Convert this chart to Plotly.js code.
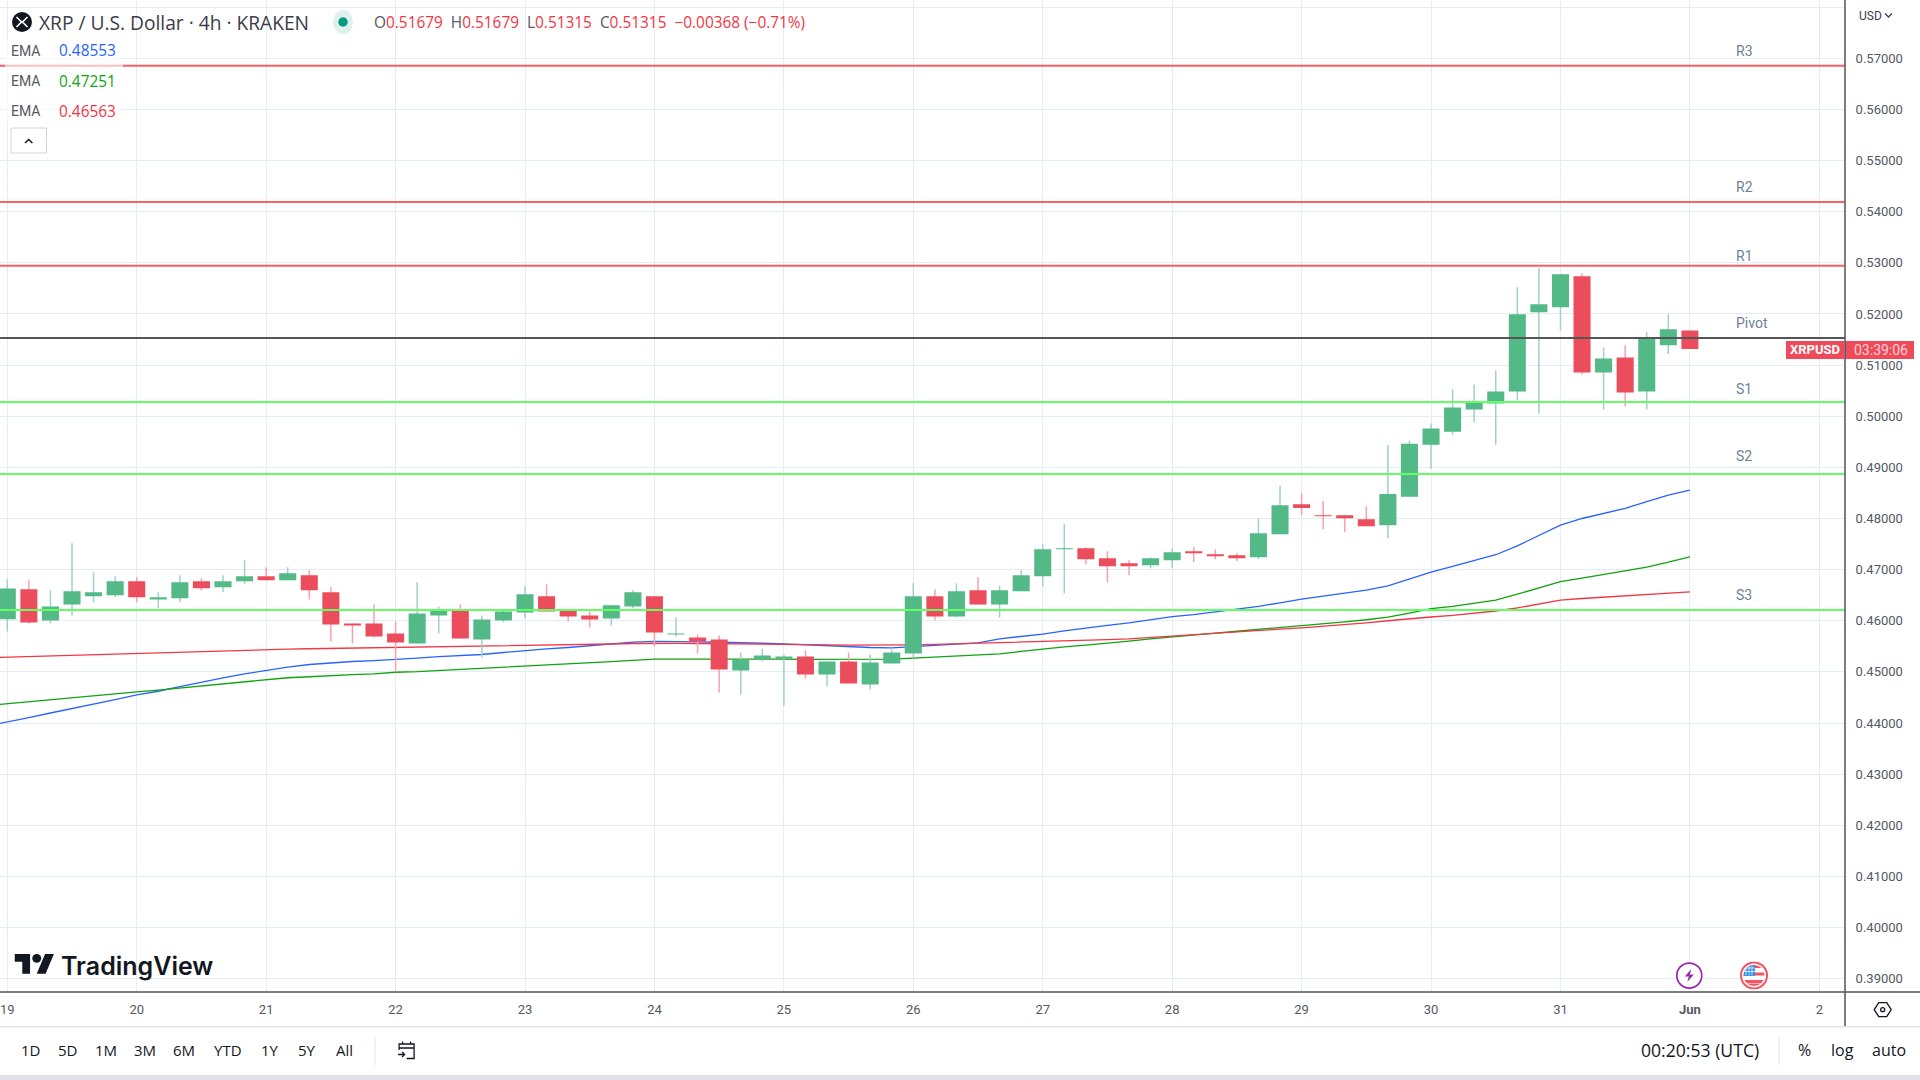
<!DOCTYPE html>
<html><head><meta charset="utf-8">
<script src="https://cdn.plot.ly/plotly-3.0.1.min.js"></script>
<style>html,body{margin:0;padding:0;background:#fff;overflow:hidden}#c{width:1920px;height:1080px}</style>
</head><body><div id="c"></div>
<script>
const times = [
"2023-05-19 00:00","2023-05-19 04:00","2023-05-19 08:00","2023-05-19 12:00","2023-05-19 16:00","2023-05-19 20:00",
"2023-05-20 00:00","2023-05-20 04:00","2023-05-20 08:00","2023-05-20 12:00","2023-05-20 16:00","2023-05-20 20:00",
"2023-05-21 00:00","2023-05-21 04:00","2023-05-21 08:00","2023-05-21 12:00","2023-05-21 16:00","2023-05-21 20:00",
"2023-05-22 00:00","2023-05-22 04:00","2023-05-22 08:00","2023-05-22 12:00","2023-05-22 16:00","2023-05-22 20:00",
"2023-05-23 00:00","2023-05-23 04:00","2023-05-23 08:00","2023-05-23 12:00","2023-05-23 16:00","2023-05-23 20:00",
"2023-05-24 00:00","2023-05-24 04:00","2023-05-24 08:00","2023-05-24 12:00","2023-05-24 16:00","2023-05-24 20:00",
"2023-05-25 00:00","2023-05-25 04:00","2023-05-25 08:00","2023-05-25 12:00","2023-05-25 16:00","2023-05-25 20:00",
"2023-05-26 00:00","2023-05-26 04:00","2023-05-26 08:00","2023-05-26 12:00","2023-05-26 16:00","2023-05-26 20:00",
"2023-05-27 00:00","2023-05-27 04:00","2023-05-27 08:00","2023-05-27 12:00","2023-05-27 16:00","2023-05-27 20:00",
"2023-05-28 00:00","2023-05-28 04:00","2023-05-28 08:00","2023-05-28 12:00","2023-05-28 16:00","2023-05-28 20:00",
"2023-05-29 00:00","2023-05-29 04:00","2023-05-29 08:00","2023-05-29 12:00","2023-05-29 16:00","2023-05-29 20:00",
"2023-05-30 00:00","2023-05-30 04:00","2023-05-30 08:00","2023-05-30 12:00","2023-05-30 16:00","2023-05-30 20:00",
"2023-05-31 00:00","2023-05-31 04:00","2023-05-31 08:00","2023-05-31 12:00","2023-05-31 16:00","2023-05-31 20:00",
"2023-06-01 00:00"];
const open = [
.4603,.46614,.46007,.4632,.46477,.46497,.46771,.46418,.46438,.46771,.46654,.46771,.46869,.46791,.46889,.46556,.45948,.45948,.45752,.45556,.46105,.46203,.45634,.46007,
.46163,.46477,.46203,.46105,.46046,.46281,.46477,.45732,.45673,.45634,.45026,.45242,.45255,.45301,.44948,.45203,.44752,.45163,.4536,.46477,.46085,.46595,.4632,
.46575,.46869,.47399,.47418,.47222,.47124,.47085,.47183,.4736,.47301,.47281,.47242,.47693,.48281,.48065,.48065,.47987,.47869,.48425,.49444,.49699,.50131,.50248,.50484,.52033,.52131,.52739,.50856,.5115,.50484,.51386,.51679];
const high = [
.4681,.4679,.46595,.47516,.46948,.46869,.4685,.46556,.46889,.4683,.46889,.47183,.47046,.47046,.46987,.46654,.45948,.4632,.45987,.46752,.46281,.4632,.46105,.46222,
.46673,.46712,.46222,.46183,.46301,.46595,.46477,.46065,.45732,.45712,.45379,.45458,.4534,.45418,.45203,.45379,.4534,.45438,.46732,.46614,.46732,.4685,.46693,
.46987,.47497,.47889,.47438,.4736,.47183,.47242,.47418,.47438,.47399,.4732,.48,.48634,.48497,.4834,.48065,.48242,.49438,.49523,.49856,.50523,.50621,.50895,.52523,.52895,.52778,.52797,.51346,.51386,.51641,.51993,.51679];
const low = [
.4579,.45948,.45948,.46105,.4636,.46458,.4636,.46242,.4636,.46595,.46556,.46712,.46791,.46791,.46418,.45595,.45556,.45673,.44993,.45556,.45752,.45654,.45281,.45967,
.46046,.46183,.45987,.45869,.45908,.46242,.45497,.45693,.4536,.44595,.44556,.45203,.4434,.44869,.44712,.44771,.44654,.45163,.45281,.46007,.46065,.4632,.46065,
.46575,.46673,.46536,.47105,.46752,.46889,.47026,.47026,.47144,.47203,.47163,.47203,.47693,.48065,.47791,.47732,.4785,.47614,.48425,.48974,.4964,.49876,.49444,.50307,.50052,.5168,.50817,.50131,.5019,.50131,.51216,.51315];
const close = [
.4663,.45967,.46281,.46575,.46556,.46771,.46458,.46458,.46752,.46634,.46771,.46869,.46791,.46928,.46595,.45928,.45908,.45693,.45575,.46144,.46203,.45654,.46026,.46183,
.46516,.46183,.46085,.46026,.46301,.46556,.45771,.45752,.45595,.45046,.45242,.4532,.45301,.44948,.45203,.44771,.45183,.45379,.46477,.46085,.46575,.4632,.46595,
.46889,.47399,.47418,.47203,.47065,.47065,.47222,.4734,.4732,.47261,.47222,.47712,.48261,.48203,.48046,.48007,.4785,.48477,.49464,.49758,.5017,.50275,.50484,.51993,.5219,.52778,.50856,.51131,.50464,.51523,.51699,.51315];
const emaTimes = ["2023-05-18 20:00"].concat(times);
const ema1 = [.4394,
.4402,.44105,.44196,.4428,.44373,.44458,.44549,.44621,.44712,.44804,.44882,.44961,.4503,.45095,.45144,.45176,.45203,.45222,.45240,.45268,.4530,.4532,.4534,.45379,
.45418,.45451,.45477,.4551,.45542,.45582,.45595,.45595,.45588,.4558,.45575,.4556,.45549,.4553,.4551,.4549,.45477,.4547,.45497,.4552,.4554,.45569,.45647,
.4569,.4574,.458,.4586,.4591,.4596,.4602,.4608,.4612,.4617,.4622,.4628,.4635,.46425,.4648,.4654,.466,.4668,.46815,.4695,.47065,.47175,.47291,.47465,.47668,.47872,.48,.48101,.48199,.48328,.48459,.48553];
const ema2 = [.4434,
.4438,.44418,.44456,.44494,.44532,.4457,.44608,.44645,.44685,.44725,.44765,.44805,.4485,.44885,.44905,.4493,.44945,.4496,.44993,.45005,.45025,.45045,.45065,.45092,
.45115,.45135,.4515,.4517,.452,.45225,.45248,.4525,.45252,.4525,.45248,.45245,.45248,.45245,.45245,.45243,.4524,.4525,.45268,.4529,.4531,.45335,.45353,
.4540,.4545,.4549,.45525,.4556,.456,.45645,.45687,.45722,.4576,.45795,.4583,.4587,.45902,.4594,.4598,.4602,.4607,.4615,.46237,.4628,.4634,.46405,.4652,.4664,.46765,.46835,.4691,.46975,.4705,.47145,.47251];
const ema3 = [.45277,
.4529,.45303,.45316,.45329,.45342,.45355,.45366,.45378,.4539,.45402,.45414,.45426,.45438,.45445,.45452,.45458,.45465,.45471,.45477,.45482,.45487,.45492,.45498,.45503,
.45508,.45514,.45522,.45532,.45545,.45555,.45562,.45558,.45555,.45548,.45542,.45539,.45536,.4553,.45528,.45525,.45523,.45525,.4553,.45538,.45548,.45558,.45569,
.4558,.45595,.4561,.4562,.4563,.45645,.45672,.45711,.4574,.4576,.45785,.45815,.45835,.4586,.4589,.45925,.4596,.46,.4604,.46073,.46105,.46145,.46191,.4625,.4633,.46405,.46435,.4646,.46485,.4651,.46535,.46563];
const levelNames = ["R3","R2","R1","Pivot","S1","S2","S3"];
const levelValues = [.56855,.5419,.52944,.5153,.50278,.4887,.4621];
const levelColors = ["#ff5f5f","#ff5f5f","#ff5f5f","#555555","#62ff62","#62ff62","#62ff62"];
const levelShift = [15,15.5,10,15,13,18,15.5];
const xTickVals = ["2023-05-19","2023-05-20","2023-05-21","2023-05-22","2023-05-23","2023-05-24","2023-05-25","2023-05-26","2023-05-27","2023-05-28","2023-05-29","2023-05-30","2023-05-31","2023-06-01","2023-06-02"];
const xTickText = ["19","20","21","22","23","24","25","26","27","28","29","30","31","<b>Jun</b>","2"];
const yTickVals = [.39,.40,.41,.42,.43,.44,.45,.46,.47,.48,.49,.50,.51,.52,.53,.54,.55,.56,.57,.58];
const yTickText = ["0.39000","0.40000","0.41000","0.42000","0.43000","0.44000","0.45000","0.46000","0.47000","0.48000","0.49000","0.50000","0.51000","0.52000","0.53000","0.54000","0.55000","0.56000","0.57000",""];
const leftButtons = ["1D","5D","1M","3M","6M","YTD","1Y","5Y","All"];
const leftButtonX = [30,67.4,106,145,184,228,270,307,344];

const W=1845,H=992,FONT="Roboto, sans-serif",OS="'Open Sans', sans-serif";
const X=p=>p/W, Y=p=>1-p/H;
const GREEN="#53b987",RED="#eb4d5c",GWICK="#a3cdcf",RWICK="#f7a1ac",TXT="#131722",MUTED="#555962";

const wickColors=open.map((o,i)=>close[i]>=o?GWICK:RWICK);
const traces=[
 {type:"scatter",mode:"lines",x:emaTimes,y:ema1,line:{color:"#2962ff",width:1.3},zorder:-1,hoverinfo:"skip"},
 {type:"scatter",mode:"lines",x:emaTimes,y:ema2,line:{color:"#0fa30f",width:1.3},zorder:-1,hoverinfo:"skip"},
 {type:"scatter",mode:"lines",x:emaTimes,y:ema3,line:{color:"#f23645",width:1.3},zorder:-1,hoverinfo:"skip"},
 {type:"bar",x:times,base:low,y:high.map((h,i)=>h-low[i]),width:1000000,marker:{color:wickColors,line:{width:0}},hoverinfo:"skip"},
 {type:"candlestick",x:times,open:open,high:high,low:low,close:close,
  increasing:{line:{color:GREEN,width:0},fillcolor:GREEN},decreasing:{line:{color:RED,width:0},fillcolor:RED},hoverinfo:"skip"}
];
levelNames.forEach((n,i)=>traces.push({type:"scatter",mode:"lines",x:["2023-05-18 22:38:47","2023-06-02 04:45:42"],
  y:[levelValues[i],levelValues[i]],line:{color:levelColors[i],width:2},zorder:1,hoverinfo:"skip"}));

const anns=[];
const T=(text,x,y,size,color,anchor,extra,fam)=>anns.push(Object.assign({text,x:X(x),y:Y(y),xref:"paper",yref:"paper",showarrow:false,
  xanchor:anchor||"left",yanchor:"middle",borderpad:0,font:{family:fam||OS,size,color}},extra||{}));
T("XRP / U.S. Dollar · 4h · KRAKEN",38,22,19.2,"#3a3d47");
const R='#f23645', GAP="\u00a0 ";
T(`O<span style="color:${R}">0.51679</span>${GAP}H<span style="color:${R}">0.51679</span>${GAP}L<span style="color:${R}">0.51315</span>${GAP}C<span style="color:${R}">0.51315</span>${GAP}<span style="color:${R}">−0.00368 (−0.71%)</span>`,373,22,15.4,"#555962");
T("EMA",10,51,14,MUTED,"left",null,FONT); T("0.48553",57.5,51,15.4,"#2962ff");
T("EMA",10,81,14,MUTED,"left",null,FONT); T("0.47251",57.5,81,15.4,"#0fa30f");
T("EMA",10,111,14,MUTED,"left",null,FONT); T("0.46563",57.5,111,15.4,"#f23645");
levelNames.forEach((n,i)=>anns.push({text:n,x:X(1734),xref:"paper",y:levelValues[i],yref:"y",yshift:levelShift[i],showarrow:false,
  xanchor:"left",yanchor:"middle",font:{family:FONT,size:14,color:"#6f8296"}}));
T("USD",1858,16,12,"#3a4150","left",null,FONT);
T("XRPUSD",1815,350,13,"#ffffff","center",{font:{family:FONT,size:13,color:"#fff",weight:700}});
T("03:39:06",1881,350,14,"#ffd4d8","center",null,FONT);
T("TradingView",59.5,966,25,TXT,"left",{font:{family:"Inter, sans-serif",size:25,color:TXT,weight:600}});
leftButtons.forEach((b,i)=>T(b,leftButtonX[i],1050,15,TXT,"center"));
T("00:20:53 (UTC)",1700,1050,17.6,TXT,"center");
T("%",1804,1050,16,TXT,"center");
T("log",1842,1050,16,TXT,"center");
T("auto",1889,1050,16,TXT,"center");

const rect=(x0,y0,x1,y1,fill,layer,line)=>({type:"rect",xref:"paper",yref:"paper",x0:X(x0),x1:X(x1),y0:Y(y0),y1:Y(y1),fillcolor:fill,layer:layer||"above",line:line||{width:0}});
const seg=(x0,y0,x1,y1,color,w)=>({type:"line",xref:"paper",yref:"paper",x0:X(x0),x1:X(x1),y0:Y(y0),y1:Y(y1),layer:"above",line:{color,width:w||1}});
const poly=(pts,color,w)=>({type:"path",xref:"paper",yref:"paper",layer:"above",path:"M"+pts.map(p=>X(p[0])+","+Y(p[1])).join(" L"),line:{color,width:w||1.5}});
const shapes=[
 rect(5,40,123,122,"rgba(255,255,255,0.6)"),
 rect(11,128,46.5,153,"#ffffff","above",{color:"#d1d4dc",width:1}),
 poly([[25,143],[28.7,139.5],[32.4,143]],TXT,1.5),
 poly([[1885,13.5],[1888.5,17],[1892,13.5]],"#3a4150",1.3),
 rect(1786,341,1844,359,"#ef4a5a"),
 rect(1845,341,1914,359,"#ef4a5a"),
 seg(0,992,1920,992,"#50535e",1.5),
 seg(1845,0,1845,1026,"#50535e",1.5),
 seg(0,1026.7,1920,1026.7,"#e0e3eb",1.5),
 rect(0,1075,1920,1080,"#e0e3eb"),
 seg(375,1037,375,1065,"#e0e3eb",1),
 seg(1779,1037,1779,1065,"#e0e3eb",1)
];
const svg=s=>"data:image/svg+xml;charset=utf-8,"+encodeURIComponent(s);
const img=(s,cx,cy,w,h)=>({source:svg(s),xref:"paper",yref:"paper",x:X(cx-w/2),y:Y(cy-h/2),sizex:w/W,sizey:h/H,sizing:"stretch",xanchor:"left",yanchor:"top",layer:"above"});
const images=[
 img('<svg xmlns="http://www.w3.org/2000/svg" viewBox="0 0 40 40" width="40" height="40"><circle cx="20" cy="20" r="20" fill="#131722"/><path d="M9 10 L17 18 Q20 21 23 18 L31 10 M9 30 L17 22 Q20 19 23 22 L31 30" stroke="#fff" stroke-width="3.2" fill="none"/></svg>',22,22,20,20),
 img('<svg xmlns="http://www.w3.org/2000/svg" viewBox="0 0 48 48" width="48" height="48"><ellipse cx="24" cy="24" rx="20" ry="24" fill="#e0f0ed"/><circle cx="24" cy="24" r="9.5" fill="#089981"/></svg>',343,22,24,24),
 img('<svg xmlns="http://www.w3.org/2000/svg" viewBox="0 0 36 28" width="72" height="56"><path fill="#131722" d="M14 22H7V11H0V4h14v18zM28 22h-8l7.5-18h8L28 22z"/><circle fill="#131722" cx="20" cy="8" r="4"/></svg>',34.5,965,40,31),
 img('<svg xmlns="http://www.w3.org/2000/svg" viewBox="0 0 54 54" width="54" height="54"><circle cx="27" cy="27" r="25" fill="#fff" stroke="#9c27b0" stroke-width="3.5"/><path d="M31 14 L18 29 H26 L23 40 L36 25 H28 Z" fill="#9c27b0"/></svg>',1689.3,975.5,27,27),
 img('<svg xmlns="http://www.w3.org/2000/svg" viewBox="0 0 56 56" width="56" height="56"><defs><clipPath id="k"><circle cx="28" cy="28" r="21"/></clipPath></defs><circle cx="28" cy="28" r="26" fill="#fff" stroke="#f7525f" stroke-width="4"/><g clip-path="url(#k)"><rect x="0" y="7" width="56" height="6" fill="#f7525f"/><rect x="0" y="22" width="56" height="6" fill="#f7525f"/><rect x="0" y="37" width="56" height="6" fill="#f7525f"/><rect x="0" y="44" width="56" height="6" fill="#f7525f"/><rect x="6" y="6" width="24" height="23" fill="#2e8ee8"/><path d="M12 8V28M18 8V28M24 8V28M8 13H30M8 20H30" stroke="#fff" stroke-width="1.4"/></g></svg>',1754,975.5,28,28),
 img('<svg xmlns="http://www.w3.org/2000/svg" viewBox="0 0 40 40" width="40" height="40"><path d="M3 20 L12 6 H28 L37 20 L28 34 H12 Z" fill="none" stroke="#131722" stroke-width="2.6" stroke-linejoin="round"/><circle cx="20" cy="20" r="4" fill="none" stroke="#131722" stroke-width="2.6"/></svg>',1882.7,1009.7,20,20),
 img('<svg xmlns="http://www.w3.org/2000/svg" viewBox="0 0 40 40" width="40" height="40"><path d="M5 20V8H35V37H20 M5 16H35 M12 3V9 M28 3V9 M3 29H15 M11 24L16 29L11 34" fill="none" stroke="#131722" stroke-width="2.6"/></svg>',406.6,1050,20,20)
];

const layout={width:1920,height:1080,margin:{l:0,r:75,t:0,b:88,pad:0},paper_bgcolor:"#ffffff",plot_bgcolor:"#ffffff",showlegend:false,
 barmode:"overlay",boxgap:0.21,boxgroupgap:0,boxmode:"overlay",
 xaxis:{type:"date",range:["2023-05-18 22:38:47","2023-06-02 04:45:42"],rangeslider:{visible:false},tickmode:"array",tickvals:xTickVals,ticktext:xTickText,
  tickangle:0,ticks:"outside",ticklen:5,tickcolor:"rgba(0,0,0,0)",ticklabeloverflow:"allow",tickfont:{family:FONT,size:13,color:"#555962"},
  showgrid:true,gridcolor:"#e4edf3",gridwidth:1,showline:false,zeroline:false,fixedrange:true},
 yaxis:{side:"right",range:[0.38739,0.58141],tickmode:"array",tickvals:yTickVals,ticktext:yTickText,ticks:"outside",ticklen:7,tickcolor:"rgba(0,0,0,0)",
  tickfont:{family:FONT,size:13,color:"#555962"},showgrid:true,gridcolor:"#e4edf3",gridwidth:1,showline:false,zeroline:false,fixedrange:true},
 annotations:anns,shapes:shapes,images:images,font:{family:FONT}
};
Plotly.newPlot("c",traces,layout,{displayModeBar:false,staticPlot:true,responsive:false});
</script></body></html>
